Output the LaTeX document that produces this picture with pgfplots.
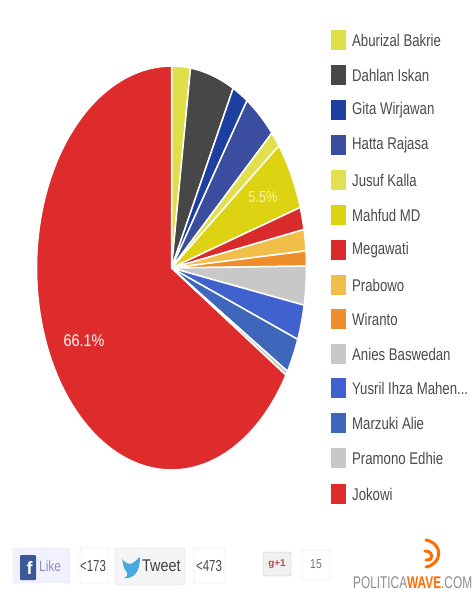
\documentclass[border=0pt]{standalone}
\usepackage{pgfplots}
\pgfplotsset{compat=1.18}
\usepackage{fontspec}
\setmainfont{Liberation Sans}
\definecolor{cAb}{HTML}{DFDF4A}
\definecolor{cDa}{HTML}{474747}
\definecolor{cGi}{HTML}{1C3FA0}
\definecolor{cHa}{HTML}{3A4D9E}
\definecolor{cJu}{HTML}{E3E050}
\definecolor{cMa}{HTML}{DDD312}
\definecolor{cMe}{HTML}{D92B2B}
\definecolor{cPr}{HTML}{F2BE4A}
\definecolor{cWi}{HTML}{EE8E2A}
\definecolor{cAn}{HTML}{C8C8C8}
\definecolor{cYu}{HTML}{3F62CF}
\definecolor{cMz}{HTML}{3E66BB}
\definecolor{cPa}{HTML}{C8C8C8}
\definecolor{cJo}{HTML}{DE2C2C}
\definecolor{txt}{HTML}{4A4A4A}
\def\cum{0}
\newcommand\pieslice[2]{%
  \pgfmathsetmacro\aS{\cum*3.6}%
  \pgfmathsetmacro\aE{(\cum+#1)*3.6}%
  \pgfmathsetmacro\newcum{\cum+#1}%
  \xdef\cum{\newcum}%
  \pgfmathtruncatemacro\nseg{ceil((\aE-\aS)/2.5)+1}%
  \pgfmathsetmacro\astep{(\aE-\aS)/\nseg}%
  \gdef\pts{(171.5,268)}%
  \foreach \i in {0,...,\nseg}{%
    \pgfmathsetmacro\tt{\aS+\astep*\i}%
    \pgfmathsetmacro\px{171.5+135*sin(\tt)}%
    \pgfmathsetmacro\py{268-202*cos(\tt)}%
    \xdef\pts{\pts (\px,\py)}%
  }%
  \edef\tmp{\noexpand\addplot[fill=#2,draw=white,line width=1.5bp,line join=round] coordinates {\pts} --cycle;}%
  \tmp
}
\newcommand\legitem[3]{%
  \edef\tmp{\noexpand\addplot[fill=#2,draw=none] coordinates {(331,\the\numexpr#3-10\relax) (345.5,\the\numexpr#3-10\relax) (345.5,\the\numexpr#3+10\relax) (331,\the\numexpr#3+10\relax)} --cycle;}%
  \tmp
  \node[anchor=west,xscale=.78,text=txt,font=\fontsize{17}{17}\selectfont,inner sep=0pt] at (axis cs:352,#3) {#1};
}
\begin{document}
\begin{tikzpicture}
\begin{axis}[
  scale only axis, width=475bp, height=596bp,
  xmin=0, xmax=475, ymin=0, ymax=596, y dir=reverse,
  hide axis, clip=false, no markers,
]
\path[use as bounding box] (axis cs:0,0) rectangle (axis cs:475,596);
\pieslice{2.25}{cAb}
\pieslice{5.3}{cDa}
\pieslice{1.9}{cGi}
\pieslice{3.9}{cHa}
\pieslice{1.3}{cJu}
\pieslice{5.5}{cMa}
\pieslice{1.8}{cMe}
\pieslice{1.7}{cPr}
\pieslice{1.2}{cWi}
\pieslice{3.1}{cAn}
\pieslice{2.8}{cYu}
\pieslice{2.8}{cMz}
\pieslice{0.35}{cPa}
\pieslice{66.1}{cJo}
\node[text=white,xscale=.85,font=\fontsize{17}{17}\selectfont] at (axis cs:84,341) {66.1\%};
\node[text=white!70!cMa,xscale=.8,font=\fontsize{16}{16}\selectfont] at (axis cs:263,197) {5.5\%};
\legitem{Aburizal Bakrie}{cAb}{40}
\legitem{Dahlan Iskan}{cDa}{75}
\legitem{Gita Wirjawan}{cGi}{110}
\legitem{Hatta Rajasa}{cHa}{145}
\legitem{Jusuf Kalla}{cJu}{180}
\legitem{Mahfud MD}{cMa}{215}
\legitem{Megawati}{cMe}{250}
\legitem{Prabowo}{cPr}{285}
\legitem{Wiranto}{cWi}{319}
\legitem{Anies Baswedan}{cAn}{354}
\legitem{Yusril Ihza Mahen...}{cYu}{388}
\legitem{Marzuki Alie}{cMz}{423}
\legitem{Pramono Edhie}{cPa}{458}
\legitem{Jokowi}{cJo}{494}
% social buttons
\draw[draw=black!12,fill=blue!5!white,rounded corners=1.5bp] (axis cs:13,548) rectangle (axis cs:70,583);
\fill[fill={rgb,255:red,59;green,89;blue,152},rounded corners=1bp] (axis cs:20,555) rectangle (axis cs:36,580);
\node[text=white,font=\bfseries\fontsize{18}{18}\selectfont] at (axis cs:29.5,568) {f};
\node[text=black!40!blue!45!white,xscale=.8,font=\fontsize{15}{15}\selectfont,anchor=west,inner sep=0pt] at (axis cs:39,566) {Like};
\draw[draw=black!15,fill=white,rounded corners=1.5bp] (axis cs:80,548) rectangle (axis cs:108,583);
\node[text=txt,xscale=.72,font=\fontsize{16}{16}\selectfont] at (axis cs:93,566) {\textless173};
\draw[draw=black!15,fill=black!4,rounded corners=1.5bp] (axis cs:115,548) rectangle (axis cs:185,585);
\fill[fill={rgb,255:red,70;green,170;blue,225}] (axis cs:122,559) .. controls (axis cs:128,566) and (axis cs:132,564) .. (axis cs:134,562) -- (axis cs:140,557) .. controls (axis cs:140,572) and (axis cs:134,579) .. (axis cs:124,578) .. controls (axis cs:130,576) and (axis cs:127,572) .. (axis cs:124,568) -- cycle;
\node[text=black!75,xscale=.85,font=\fontsize{17}{17}\selectfont,anchor=west,inner sep=0pt] at (axis cs:142,566) {Tweet};
\draw[draw=black!15,fill=white,rounded corners=1.5bp] (axis cs:194,548) rectangle (axis cs:225,583);
\node[text=txt,xscale=.72,font=\fontsize{16}{16}\selectfont] at (axis cs:209,566) {\textless473};
\draw[draw=black!25,fill=black!6,rounded corners=1.5bp] (axis cs:263,552) rectangle (axis cs:291,576);
\node[text=red!60!black!70,font=\bfseries\fontsize{10}{10}\selectfont] at (axis cs:277,564) {g+1};
\draw[draw=black!15,fill=white,rounded corners=1.5bp] (axis cs:302,550) rectangle (axis cs:330,580);
\node[text=black!55,xscale=.8,font=\fontsize{13}{13}\selectfont] at (axis cs:316,564) {15};
% logo
\draw[orange!85!red,line width=3bp,line cap=round] (axis cs:426,540) .. controls (axis cs:444,544) and (axis cs:442,564) .. (axis cs:426,567);
\draw[orange!85!red,line width=3bp,line cap=round] (axis cs:425,551) .. controls (axis cs:434,551) and (axis cs:434,561) .. (axis cs:426,560);
\node[anchor=west,inner sep=0pt,xscale=.7,font=\fontsize{17}{17}\selectfont] at (axis cs:353,583) {\textcolor{black!45}{POLITICA}\textcolor{orange!85!red}{\bfseries WAVE}\textcolor{black!45}{.COM}};
\end{axis}
\end{tikzpicture}
\end{document}
